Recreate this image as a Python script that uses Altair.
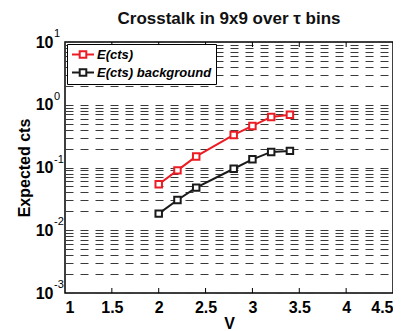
import altair as alt
import pandas as pd

v_vals = [2.0, 2.2, 2.4, 2.8, 3.0, 3.2, 3.4]
e_cts = [0.054, 0.090, 0.150, 0.330, 0.460, 0.640, 0.690]
e_bkg = [0.0184, 0.0304, 0.0478, 0.0955, 0.135, 0.177, 0.184]
series_names = ["E(cts)", "E(cts) background"]
series_colors = ["#ec1c24", "#1a1a1a"]
x_ticks = [1, 1.5, 2, 2.5, 3, 3.5, 4, 4.5]
y_decades = [0.001, 0.01, 0.1, 1, 10]
y_exponents = ["-3", "-2", "-1", "0", "1"]
y_grid = [round(m * d, 6) for d in [0.001, 0.01, 0.1, 1] for m in range(1, 10)] + [10]

rows = []
for v, a, b in zip(v_vals, e_cts, e_bkg):
    rows.append({"V": v, "cts": a, "series": series_names[0]})
    rows.append({"V": v, "cts": b, "series": series_names[1]})
df = pd.DataFrame(rows)

W, H = 328, 251

xscale = alt.Scale(domain=[1, 4.5], nice=False, zero=False)
yscale = alt.Scale(type="log", domain=[0.001, 10], nice=False)

label_expr = ("(datum.value == 10 || datum.value == 1 || datum.value == 0.1 || "
              "datum.value == 0.01 || datum.value == 0.001) ? '10' : ''")

lines = alt.Chart(df).mark_line(
    strokeWidth=2,
    point=alt.OverlayMarkDef(shape="square", size=42, filled=False, fill="white", strokeWidth=2),
).encode(
    x=alt.X("V:Q", scale=xscale, axis=alt.Axis(
        values=x_ticks, labelExpr="datum.value + ''", title="V", grid=False,
        ticks=False, domain=False, labelPadding=6, titlePadding=0)),
    y=alt.Y("cts:Q", scale=yscale, axis=alt.Axis(
        values=y_grid, labelExpr=label_expr, title="Expected cts", grid=True,
        gridDash=[8, 7], gridColor="#3a3a3a", gridWidth=1, ticks=False, domain=False,
        labelPadding=12, titlePadding=3)),
    color=alt.Color("series:N", scale=alt.Scale(domain=series_names, range=series_colors),
                    legend=alt.Legend(
                        title=None, orient="top-left", offset=2,
                        symbolType="M-1,0H0.4M1.6,0H3M0.4,-0.6H1.6V0.6H0.4Z",
                        symbolSize=121, symbolStrokeWidth=2, symbolFillColor="white",
                        labelFont="Liberation Sans", labelFontSize=13,
                        labelFontStyle="italic", labelFontWeight="bold",
                        labelColor="black", strokeColor="black", fillColor="white",
                        padding=4, rowPadding=3, labelOffset=13)),
)

exp_df = pd.DataFrame({"cts": y_decades, "exp": y_exponents, "V": [1] * len(y_decades)})
exps = alt.Chart(exp_df).mark_text(
    align="left", baseline="alphabetic", dx=-11, dy=-5, fontSize=11,
    font="Liberation Sans", color="black",
).encode(x=alt.X("V:Q", scale=xscale), y=alt.Y("cts:Q", scale=yscale), text="exp:N")

tick_df = pd.DataFrame({"V": x_ticks[1:-1]})
ticks_bottom = alt.Chart(tick_df).mark_rule(color="black", strokeWidth=1).encode(
    x=alt.X("V:Q", scale=xscale), y=alt.value(H), y2=alt.value(H - 5))
ticks_top = alt.Chart(tick_df).mark_rule(color="black", strokeWidth=1).encode(
    x=alt.X("V:Q", scale=xscale), y=alt.value(0), y2=alt.value(5))

chart = alt.layer(ticks_bottom, ticks_top, exps, lines).properties(
    width=W, height=H,
    title=alt.Title("Crosstalk in 9x9 over τ bins", fontSize=17, fontWeight="bold",
                    font="Liberation Sans", anchor="middle", offset=0, color="#111"),
    padding={"left": 8, "top": 2, "right": 0, "bottom": 0},
).configure_view(stroke="black", strokeWidth=1.5).configure_axis(
    labelFont="Liberation Sans", labelFontSize=16, labelFontWeight="bold", labelColor="black",
    titleFont="Liberation Sans", titleFontSize=16, titleFontWeight="bold", titleColor="black",
)

chart.save("out.html", embed_options={"renderer": "svg", "actions": False})
